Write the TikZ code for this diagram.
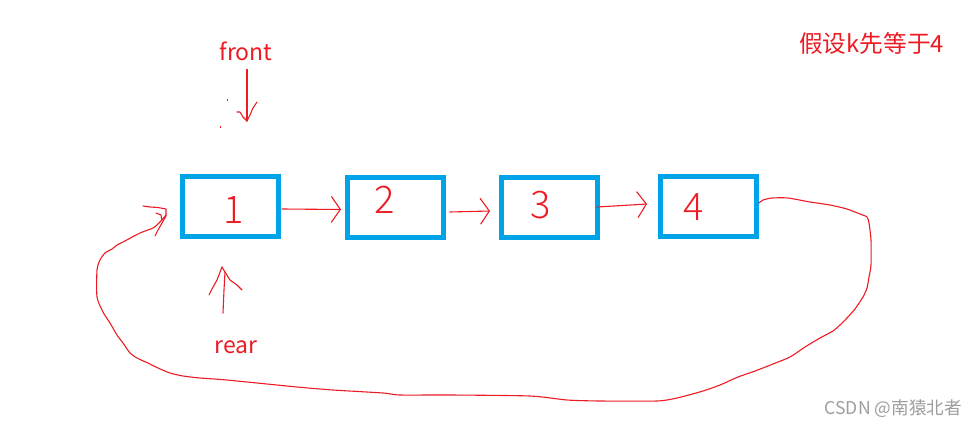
\documentclass[tikz,border=0pt]{standalone}
\usepackage{fontspec}
\setmainfont{Noto Sans CJK SC}
\newfontfamily\digitfont{Noto Sans CJK SC Light}
\usetikzlibrary{arrows.meta,calc}
\definecolor{pred}{HTML}{ED1C24}
\definecolor{pblue}{HTML}{00A2E8}
\definecolor{wmgray}{HTML}{9E9E9E}
\tikzset{
  listbox/.style={draw=pblue, line width=5pt, minimum width=96pt, minimum height=60pt, inner sep=0pt},
  digit/.style={text=pred, font=\digitfont\fontsize{38}{38}\selectfont, inner sep=0pt},
  hand/.style={draw=pred, line width=1.1pt, line cap=round, line join=round},
  handarrow/.style={hand, -{Straight Barb[length=9pt,width=26pt,line width=1.1pt]}},
  label/.style={text=pred, font=\fontsize{23}{23}\selectfont, inner sep=0pt, anchor=base},
}
\begin{document}
\begin{tikzpicture}[x=1pt,y=-1pt]
\useasboundingbox (0,0) rectangle (978,426);
\fill[white] (0,0) rectangle (978,426);

% boxes
\node[listbox] (b1) at (230.5,206.5) {};
\node[listbox] (b2) at (395.5,207.5) {};
\node[listbox] (b3) at (549.5,207.5) {};
\node[listbox] (b4) at (708.5,206.5) {};

% digits
\node[digit] (d1) at (234,210) {1};
\node[digit] (d2) at (385,200) {2};
\node[digit] (d3) at (541,205) {3};
\node[digit] (d4) at (694,207) {4};

% labels
\node[label] (front) at (246,60) {front};
\node[label] (rear) at (236,353) {rear};
\node[text=pred, font=\fontsize{23.7}{23.7}\selectfont, inner sep=0pt, anchor=base west] (note) at (799,52) {假设k先等于4};
\node[text=wmgray, font=\fontsize{17.6}{17.6}\selectfont, inner sep=0pt, anchor=base east] (wm) at (962,414) {CSDN @南猿北者};

% front pointer
\coordinate (ftip) at (247,121);
\draw[hand] ($(front.south)+(1,9)$) -- (ftip);
\draw[hand] (237,112) -- (240,112) -- (243,117) -- (ftip) -- (250,115) -- (253,108) -- (257,102);
\fill[pred] (226.5,99) rectangle (227.5,101);
\fill[pred] (219.5,126) rectangle (220.5,128);

% rear pointer
\coordinate (rtip) at (222,267);
\draw[hand] ($(rear.north)+(-13,-27)$) -- (224,290) -- (225,272);
\draw[hand] (209,295) -- (212,289) -- (217,280) -- (rtip) -- (225,272) -- (230,280) -- (237,285) -- (242,290);

% arrows between boxes
\draw[handarrow] ($(b1.east)+(1,2.5)$) -- ($(b2.west)+(-4,2)$);
\draw[handarrow] ($(b2.east)+(4,4.5)$) -- ($(b3.west)+(-9,3.5)$);
\draw[handarrow] ($(b3.east)+(-3,-0.5)$) -- ($(b4.west)+(-11,-2.5)$);

% loop from 4 back to 1
\draw[hand] plot[smooth, tension=0.4] coordinates {
 ($(b4.east)+(0,-3.5)$) (763,200) (772,198) (788,198) (810,202) (830,205) (847,209)
 (860,214) (867,217) (869,223) (871,240) (871,265) (869,277) (867,288) (863,297)
 (855,309) (847,318) (840,325) (833,331) (820,338) (805,347) (790,357) (773,364)
 (755,371) (738,377) (720,385) (703,391) (677,398) (657,401) (600,401) (567,400)
 (530,396) (450,395) (400,395) (383,393) (333,390) (297,387) (227,380) (200,378)
 (183,376) (170,373) (158,368) (150,364) (137,358) (130,353) (123,343) (117,335)
 (110,323) (103,312) (97,297) (97,270) (100,260) (105,253) (112,249) (117,245)
 (123,242) (140,233) (153,228) (160,222) ($(b1.west)+(-14,8.5)$)};
\coordinate (ltip) at ($(b1.west)+(-14,2.5)$);
\draw[hand] (143,206) -- (150,207) -- (158,207.5) -- (ltip) -- ($(ltip)+(0,7)$) -- (162,223) -- (158,230) -- (155,236);
\draw[hand] (156,213) -- (161,215) -- (162,220);
\end{tikzpicture}
\end{document}
